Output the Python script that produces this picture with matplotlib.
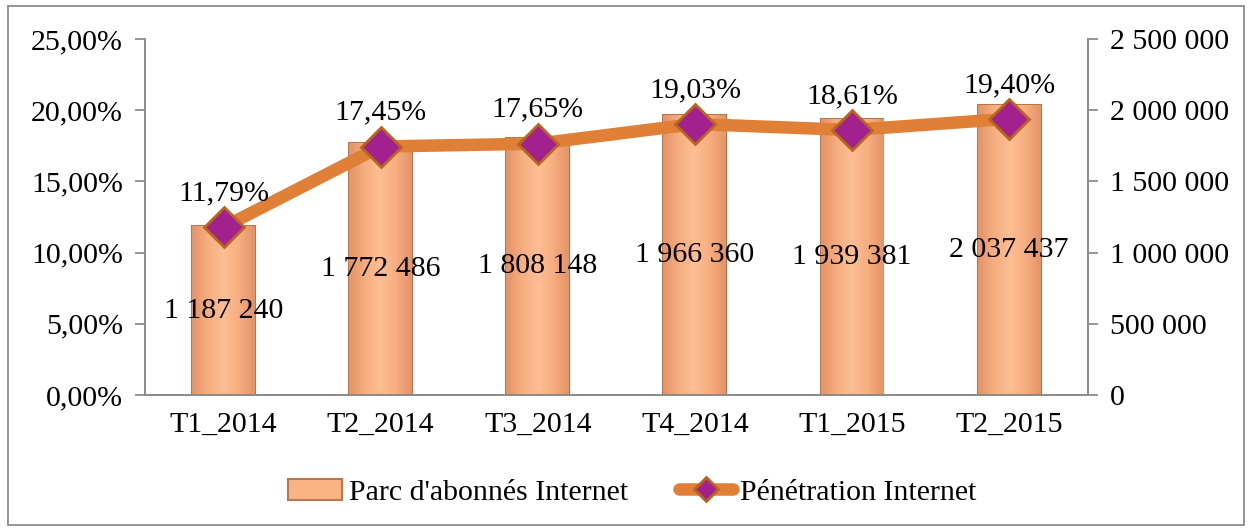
import numpy as np
import matplotlib.pyplot as plt
from matplotlib.patches import Rectangle
from matplotlib.colors import LinearSegmentedColormap
from matplotlib.ticker import FuncFormatter

# Data
CATEGORIES = ["T1_2014", "T2_2014", "T3_2014", "T4_2014", "T1_2015", "T2_2015"]
SUBSCRIBERS = [1187240, 1772486, 1808148, 1966360, 1939381, 2037437]
PENETRATION = [11.79, 17.45, 17.65, 19.03, 18.61, 19.40]

BAR_LABEL = "Parc d'abonnés Internet"
LINE_LABEL = "Pénétration Internet"

# Style
FONT = "Liberation Serif"
FS = 21.5
BAR_FACE = "#F9B384"
BAR_EDGE = "#B8764C"
LINE_COLOR = "#E07F36"
MARK_FACE = "#A3208F"
MARK_EDGE = "#B8661F"
AXIS_COLOR = "#8C8C8C"
BAR_W = 0.40

plt.rcParams["font.family"] = [FONT, "DejaVu Serif"]


def fr_int(v):
    return f"{int(round(v)):,}".replace(",", " ")


def fr_pct(v):
    return f"{v:.2f}".replace(".", ",") + "%"


fig = plt.figure(figsize=(12.52, 5.31), dpi=100)
ax = fig.add_axes([0.1158, 0.256, 0.753, 0.6706])
ax2 = ax.twinx()

x = list(range(len(CATEGORIES)))

# bars on the secondary axis (right), with a soft bevel-like shading
bars = ax2.bar(x, SUBSCRIBERS, width=BAR_W, color=BAR_FACE, edgecolor=BAR_EDGE,
               linewidth=1.5, zorder=1, label=BAR_LABEL)
shade = LinearSegmentedColormap.from_list(
    "shade", ["#E39468", "#F7AE80", "#FDBE94", "#F7AE80", "#E39468"])
grad = np.linspace(0, 1, 64).reshape(1, -1)
for b in bars:
    im = ax2.imshow(grad, cmap=shade, aspect="auto", zorder=1.5,
                    extent=[b.get_x(), b.get_x() + b.get_width(), 0, b.get_height()])
    im.set_clip_path(b)
ax2.set_xlim(-0.5, len(CATEGORIES) - 0.5)

for xi, v in zip(x, SUBSCRIBERS):
    ax2.text(xi, v / 2, fr_int(v), ha="center", va="center",
             fontsize=FS, color="black", zorder=5)

# line on primary axis, drawn on top
ax.set_zorder(ax2.get_zorder() + 1)
ax.patch.set_visible(False)
ax.plot(x, PENETRATION, color=LINE_COLOR, linewidth=9,
        marker="D", markersize=20, markerfacecolor=MARK_FACE,
        markeredgecolor=MARK_EDGE, markeredgewidth=2,
        solid_capstyle="round", zorder=3, label=LINE_LABEL)
for xi, v in zip(x, PENETRATION):
    ax.annotate(fr_pct(v), (xi, v), xytext=(0, 15), textcoords="offset points",
                ha="center", va="bottom", fontsize=FS, color="black")

# axes
ax.set_xlim(-0.5, len(CATEGORIES) - 0.5)
ax.set_ylim(0, 25)
ax2.set_ylim(0, 2500000)
ax.set_yticks([0, 5, 10, 15, 20, 25])
ax2.set_yticks([0, 500000, 1000000, 1500000, 2000000, 2500000])
ax.yaxis.set_major_formatter(FuncFormatter(lambda v, p: fr_pct(v)))
ax2.yaxis.set_major_formatter(FuncFormatter(lambda v, p: fr_int(v)))
ax.set_xticks(x)
ax.set_xticklabels(CATEGORIES)

for a in (ax, ax2):
    for s in a.spines.values():
        s.set_color(AXIS_COLOR)
        s.set_linewidth(1.3)
    a.spines["top"].set_visible(False)
    a.tick_params(axis="both", colors=AXIS_COLOR, labelcolor="black",
                  labelsize=FS, length=7, width=1.3, pad=9)
ax.tick_params(axis="x", length=0, pad=12)

# legend
h1, l1 = ax2.get_legend_handles_labels()
h2, l2 = ax.get_legend_handles_labels()
fig.legend(h1 + h2, l1 + l2, loc="center",
           bbox_to_anchor=(0.505, 0.073), ncol=2, frameon=False,
           fontsize=FS, columnspacing=1.7, handlelength=1.8, handletextpad=0.25,
           markerscale=0.6)

# outer border
fig.patches.append(Rectangle((0.006, 0.012), 0.988, 0.976, transform=fig.transFigure,
                             fill=False, edgecolor=AXIS_COLOR, linewidth=1.3))

fig.savefig("out.png", dpi=100)
